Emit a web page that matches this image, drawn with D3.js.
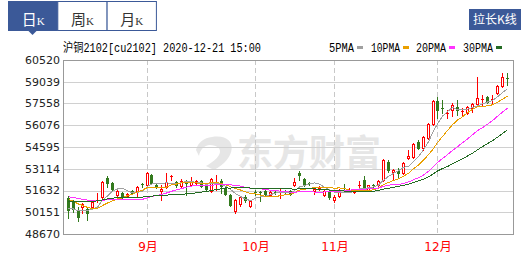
<!DOCTYPE html>
<html>
<head>
<meta charset="utf-8">
<script src="https://cdn.jsdelivr.net/npm/d3@7"></script>
<style>
  body { margin: 0; background: #fff; }
  svg { display: block; }
</style>
</head>
<body>
<script>
// trading days shown (2020)
const dates = [
  "08-10","08-11","08-12","08-13","08-14","08-17","08-18","08-19","08-20","08-21",
  "08-24","08-25","08-26","08-27","08-28","08-31",
  "09-01","09-02","09-03","09-04","09-07","09-08","09-09","09-10","09-11","09-14",
  "09-15","09-16","09-17","09-18","09-21","09-22","09-23","09-24","09-25","09-28",
  "09-29","09-30",
  "10-09","10-12","10-13","10-14","10-15","10-16","10-19","10-20","10-21","10-22",
  "10-23","10-26","10-27","10-28","10-29","10-30",
  "11-02","11-03","11-04","11-05","11-06","11-09","11-10","11-11","11-12","11-13",
  "11-16","11-17","11-18","11-19","11-20","11-23","11-24","11-25","11-26","11-27",
  "11-30",
  "12-01","12-02","12-03","12-04","12-07","12-08","12-09","12-10","12-11","12-14",
  "12-15","12-16","12-17","12-18","12-21"
];

const open = [
  51120,50850,50240,50510,50370,50510,50920,51190,52480,52140,
  51330,51460,51260,51600,51600,52080,52010,52690,52010,51600,
  51870,52550,52210,51940,52140,52010,52140,52280,52010,51600,
  52080,52280,51800,51330,50240,50710,51190,50580,51530,51530,
  51600,51330,51530,51460,51600,51600,52010,52820,52420,52140,
  51600,51740,51330,51530,50990,51260,51800,51600,51530,51940,
  52350,51670,52010,52010,52350,53570,52890,52960,52820,53850,
  53910,54940,54530,55210,56160,57730,57250,56840,57110,57320,
  56980,56910,57250,57520,57800,58000,57800,58270,58750,59290
];
const high = [
  51260,50990,50510,50780,50510,50920,51460,52280,52620,52210,
  51670,51530,51460,51670,51940,52140,52890,52760,52080,52010,
  52820,52690,52280,52420,52350,52550,52350,52350,52080,52480,
  52690,52420,51870,51390,51050,51260,51330,50990,51670,51600,
  51670,51600,51600,51740,51670,51670,52480,52960,52480,52210,
  51800,51940,51670,51600,51330,51740,52080,51800,51740,52280,
  52620,52010,52080,52350,53780,53710,53100,53170,53570,54390,
  54870,55070,55340,56230,57800,58000,57800,57110,57590,57800,
  57250,57390,57590,59360,58140,58070,58140,58820,59630,59630
];
const low = [
  49760,50170,49560,50100,49620,50370,50850,51120,51870,51600,
  51260,51120,51190,51390,51260,51870,51940,52070,51800,50990,
  51800,52350,51870,51800,51330,51940,52080,51870,51670,51530,
  51670,51460,51330,50580,50100,50580,50850,50510,51330,50920,
  51330,51260,51390,51120,51460,51330,51940,52350,51940,52010,
  51390,51670,51260,51050,50850,51190,51670,51530,51460,51870,
  51600,51600,51870,51940,52280,52890,52420,52490,52760,53780,
  53850,54460,54390,55140,56090,56570,56910,56570,56710,56770,
  56770,56840,56980,57460,57460,57590,57590,58200,58680,58820
];
const close = [
  50300,50370,49830,50710,50100,50850,50990,52210,52140,51740,
  51600,51190,51390,51460,51870,52010,52820,52140,51870,51740,
  52210,52620,52010,52280,52080,52210,52280,51940,51740,52420,
  52140,51940,51390,50650,50990,51190,50990,50920,51460,51460,
  51390,51530,51460,51530,51530,51390,52210,52690,52010,52080,
  51740,51800,51600,51190,51190,51600,51740,51670,51670,52010,
  51740,52010,51940,52280,53710,53030,53030,52820,53500,53980,
  54800,54530,55280,56160,57730,57110,57180,56910,57460,57110,
  57050,57320,57520,57930,57860,57660,57860,58750,59360,59230
];
// closes before the first visible day (estimated, only feed the moving averages)
const prevCloses = [
  50000,50100,50200,50050,50150,50300,50250,50100,50200,50350,
  51200,51400,51500,51300,51450,51600,51350,51400,51300,51400,
  51500,51700,51600,51500,51600,50700,50500,50400,50300
];

const yTicks = [48670, 50151, 51632, 53114, 54595, 56076, 57558, 59039, 60520];
const monthDays = ["09-01", "10-09", "11-02", "12-01"];
const monthLabels = ["9月", "10月", "11月", "12月"];

const maPeriods = [5, 10, 20, 30];
const maNames = ["5PMA", "10PMA", "20PMA", "30PMA"];
const maColors = ["#a0a0a0", "#eaa000", "#ff33ff", "#236b23"];

const tabs = ["日", "周", "月"];

const width = 524;
const height = 253;
const blue = "#3b5998";
const upColor = "#ff0000";
const downColor = "#337a1e";

const svg = d3.select("body")
  .append("svg")
  .attr("width", width)
  .attr("height", height);

const x = d3.scaleBand()
  .domain(dates)
  .range([65.2, 509]);

const y = d3.scaleLinear()
  .domain([48670, 60520])
  .range([234, 60]);

const cx = d => Math.round(x(d) + x.bandwidth() / 2);

// tabs
const tabW = 49.3;
const tabG = svg.append("g");
tabs.forEach((t, i) => {
  const active = i === 0;
  tabG.append("rect")
    .attr("x", 8.5 + i * tabW)
    .attr("y", 1.5)
    .attr("width", tabW)
    .attr("height", 29)
    .style("fill", active ? blue : "#fff")
    .style("stroke", blue)
    .style("stroke-width", 1);
  const txt = tabG.append("text")
    .attr("x", 8.5 + i * tabW + tabW / 2)
    .attr("y", 25)
    .attr("text-anchor", "middle")
    .style("fill", active ? "#fff" : "#333");
  txt.append("tspan")
    .style("font-family", "'Noto Sans CJK SC'")
    .style("font-size", "15px")
    .text(t);
  txt.append("tspan")
    .style("font-family", "'Liberation Serif'")
    .style("font-size", "11px")
    .text("K");
});
tabG.append("path")
  .attr("d", "M28.5,31 L32.5,35 L36.5,31 Z")
  .style("fill", blue);

// button
svg.append("rect")
  .attr("x", 469)
  .attr("y", 9)
  .attr("width", 52)
  .attr("height", 21)
  .style("fill", blue);
svg.append("text")
  .attr("x", 495)
  .attr("y", 24)
  .attr("text-anchor", "middle")
  .style("font-family", "'Noto Sans CJK SC'")
  .style("font-size", "12px")
  .style("fill", "#fff")
  .text("拉长K线");

// title
svg.append("text")
  .attr("x", 63)
  .attr("y", 51.5)
  .attr("textLength", 198)
  .attr("lengthAdjust", "spacingAndGlyphs")
  .style("font-family", "'Liberation Mono','Noto Sans CJK SC'")
  .style("font-size", "12px")
  .style("fill", "#000")
  .text("沪铜2102[cu2102] 2020-12-21 15:00");

// legend
const legendX = [329, 371, 416, 463];
const legendW = [25, 29, 30, 30];
maNames.forEach((n, i) => {
  svg.append("text")
    .attr("x", legendX[i])
    .attr("y", 51.5)
    .attr("textLength", legendW[i])
    .attr("lengthAdjust", "spacingAndGlyphs")
    .style("font-family", "'Liberation Mono'")
    .style("font-size", "12px")
    .style("fill", "#000")
    .text(n);
  svg.append("rect")
    .attr("x", legendX[i] + legendW[i] + 3)
    .attr("y", 46)
    .attr("width", 6)
    .attr("height", 3)
    .style("fill", maColors[i]);
});

// watermark
const wm = svg.append("g").style("fill", "#e6e6e6");
wm.append("path")
  .attr("d", "M212,137 C238,133 238,158 214,170 L206,166 C224,156 224,146 210,145 C204,145 200,150 199,156 L196,150 C198,142 204,138 212,137 Z");
wm.append("text")
  .attr("x", 237)
  .attr("y", 166)
  .style("font-family", "'Noto Sans CJK SC'")
  .style("font-weight", "bold")
  .style("font-size", "36px")
  .text("东方财富");

// grid
svg.append("g")
  .selectAll("line")
  .data(yTicks.slice(1, -1))
  .enter()
  .append("line")
  .attr("x1", 63).attr("x2", 513)
  .attr("y1", d => Math.round(y(d)) + 0.5)
  .attr("y2", d => Math.round(y(d)) + 0.5)
  .style("stroke", "#d0d0d0")
  .style("stroke-width", 1);

svg.append("g")
  .selectAll("line")
  .data(monthDays)
  .enter()
  .append("line")
  .attr("x1", d => cx(d) + 0.5).attr("x2", d => cx(d) + 0.5)
  .attr("y1", 60).attr("y2", 234)
  .style("stroke", "#c8c8c8")
  .style("stroke-dasharray", "5,3");

// frame
svg.append("rect")
  .attr("x", 63.5).attr("y", 60.5)
  .attr("width", 450).attr("height", 174)
  .style("fill", "none")
  .style("stroke", "#999")
  .style("stroke-width", 1);

// y labels
svg.append("g")
  .selectAll("text")
  .data(yTicks)
  .enter()
  .append("text")
  .attr("x", 60)
  .attr("y", d => y(d))
  .attr("dy", "0.36em")
  .attr("text-anchor", "end")
  .style("font-family", "'DejaVu Sans'")
  .style("font-size", "11px")
  .style("fill", "#222")
  .text(d => d);

// month labels
svg.append("g")
  .selectAll("text")
  .data(monthDays)
  .enter()
  .append("text")
  .attr("x", d => cx(d) + 1)
  .attr("y", 251)
  .attr("text-anchor", "middle")
  .style("font-family", "'DejaVu Sans','Noto Sans CJK SC'")
  .style("font-size", "12px")
  .style("fill", "#ff0000")
  .text((d, i) => monthLabels[i]);

// candles
const candles = dates.map((d, i) => ({ date: d, o: open[i], h: high[i], l: low[i], c: close[i] }));
const cg = svg.append("g");
candles.forEach(k => {
  const px = cx(k.date);
  const up = k.c >= k.o;
  const col = up ? upColor : downColor;
  cg.append("line")
    .attr("x1", px + 0.5).attr("x2", px + 0.5)
    .attr("y1", Math.round(y(k.h))).attr("y2", Math.round(y(k.l)) + 1)
    .style("stroke", col)
    .style("stroke-width", 1);
  const top = Math.round(y(Math.max(k.o, k.c)));
  const bot = Math.round(y(Math.min(k.o, k.c)));
  if (bot - top < 2) {
    cg.append("rect")
      .attr("x", px - 1).attr("y", top)
      .attr("width", 3).attr("height", Math.max(1, bot - top))
      .style("fill", col);
  } else if (up) {
    cg.append("rect")
      .attr("x", px - 0.5).attr("y", top + 0.5)
      .attr("width", 2).attr("height", bot - top)
      .style("fill", "#fff")
      .style("stroke", col)
      .style("stroke-width", 1);
  } else {
    cg.append("rect")
      .attr("x", px - 1).attr("y", top)
      .attr("width", 3).attr("height", bot - top + 1)
      .style("fill", col);
  }
});

// moving averages
const allCloses = prevCloses.concat(close);
const offset = prevCloses.length;
const line = d3.line()
  .x(d => cx(d.date) + 0.5)
  .y(d => y(d.v));

maPeriods.forEach((n, j) => {
  const pts = dates.map((d, i) => ({
    date: d,
    v: d3.mean(allCloses.slice(offset + i - n + 1, offset + i + 1))
  }));
  svg.append("path")
    .datum(pts)
    .attr("d", line)
    .style("fill", "none")
    .style("stroke", maColors[j])
    .style("stroke-width", 1)
    .style("shape-rendering", "crispEdges");
});
</script>
</body>
</html>
